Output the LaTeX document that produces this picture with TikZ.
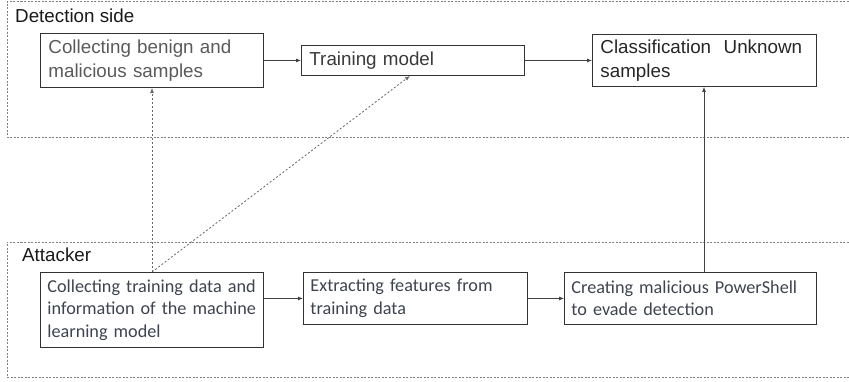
\documentclass[tikz,border=0pt]{standalone}
\usepackage{fontspec}
\setmainfont{Liberation Sans}
\newfontfamily\calfont{Carlito}
\usetikzlibrary{arrows.meta}
\definecolor{atext}{HTML}{3E4350}
\definecolor{btext}{HTML}{5A5A5A}
\definecolor{ctext}{HTML}{3A3A3A}
\hyphenpenalty=10000
\begin{document}
\begin{tikzpicture}[x=1pt,y=-1pt,
  region/.style={draw=black!50, line width=0.8pt, dash pattern=on 2pt off 1.5pt},
  dbox/.style={draw=black!80, line width=0.9pt, anchor=north west, inner xsep=8pt, inner ysep=0pt, align=left, font=\fontsize{18.8}{24}\selectfont},
  abox/.style={draw=black!80, line width=0.9pt, anchor=north west, inner xsep=7pt, inner ysep=0pt, align=left, font=\calfont\fontsize{18.2}{22.5}\selectfont, text=atext},
  lbl/.style={anchor=base west, inner sep=0pt, font=\fontsize{18.8}{22}\selectfont, text=black!90},
  arr/.style={draw=black!75, line width=0.8pt, -{Latex[length=5pt,width=4pt]}},
  darr/.style={arr, draw=black!60, dash pattern=on 2pt off 2pt}
]
\useasboundingbox (0,0) rectangle (849,381);
% regions
\draw[region] (852,1.5) -- (7,1.5) -- (7,137) -- (852,137);
\draw[region] (852,242) -- (7,242) -- (7,377) -- (852,377);
\node[lbl] (ldet) at (15,22) {Detection side};
\node[lbl] (latt) at (22,261) {Attacker};
% detection boxes
\node[dbox, minimum width=223pt, minimum height=54pt, text width=207pt, text=btext] (b1) at (40,33) {Collecting benign and\\malicious samples};
\node[dbox, minimum width=223pt, minimum height=30pt, text width=207pt, text=ctext] (b2) at (301,45) {Training model};
\node[dbox, minimum width=224pt, minimum height=52pt, text width=208pt, text=black!85] (b3) at (592,34) {Classification\ \ Unknown\\samples};
% attacker boxes
\node[abox, minimum width=223pt, minimum height=75pt, text width=209pt] (a1) at (40,272) {Collecting training data and\\information of the machine\\learning model};
\node[abox, minimum width=224pt, minimum height=52pt, text width=210pt] (a2) at (303,272) {Extracting features from\\training data};
\node[abox, minimum width=252pt, minimum height=52pt, text width=238pt] (a3) at (564,272) {Creating malicious PowerShell\\to evade detection};
% helper coordinates
\coordinate (u) at (704,0);
\coordinate (v) at (152,0);
\coordinate (w) at (410,0);
% arrows
\draw[arr] (b1) -- (b2);
\draw[arr] (b2) -- (b3);
\draw[arr] (a1.east |- a2.west) -- (a2.west);
\draw[arr] (a2) -- (a3);
\draw[arr] (a3.north -| u) -- (b3.south -| u);
\draw[darr] (a1.north -| v) -- (b1.south -| v);
\draw[darr] (a1.north -| v) -- (b2.south -| w);
\end{tikzpicture}
\end{document}
